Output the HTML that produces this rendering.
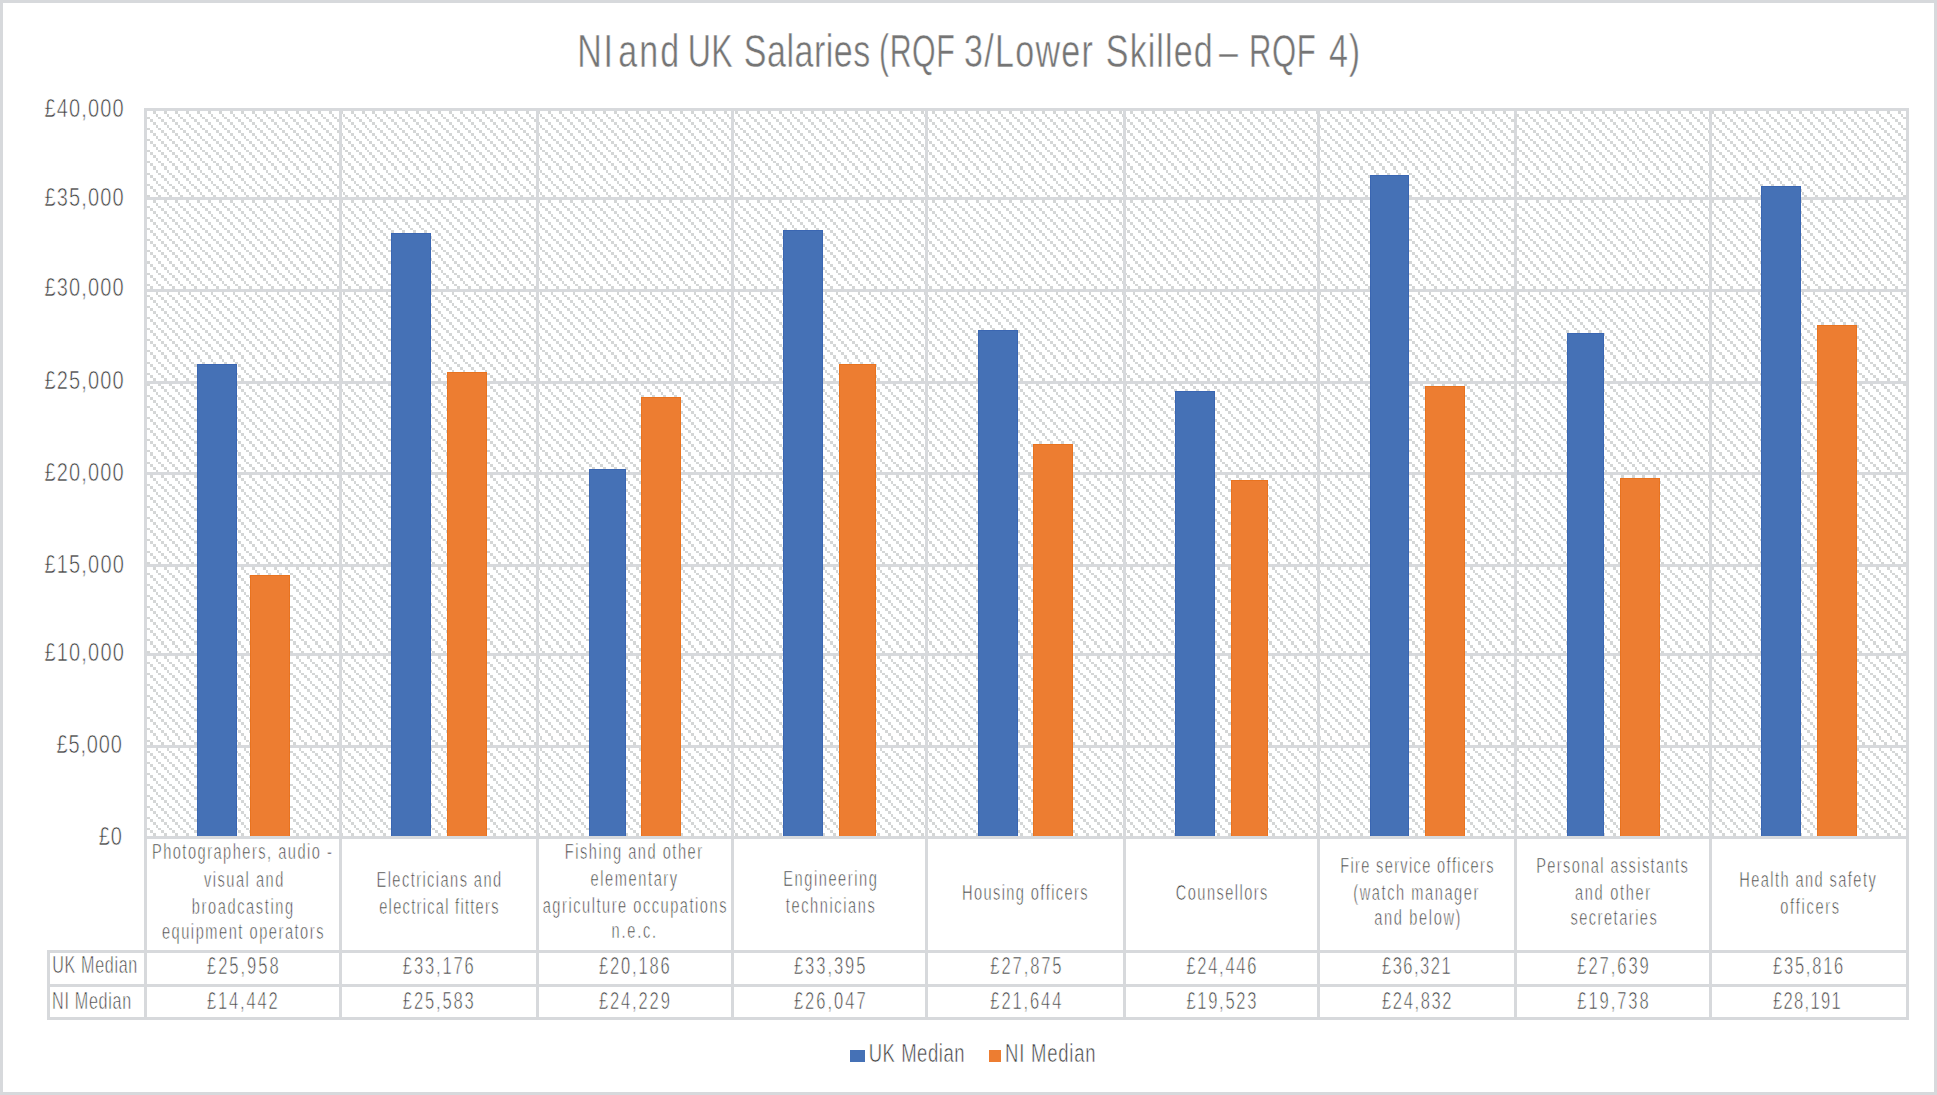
<!DOCTYPE html>
<html><head><meta charset="utf-8"><title>NI and UK Salaries</title><style>html,body{margin:0;padding:0;background:#fff;overflow:hidden}svg{display:block}text{font-family:"Liberation Sans",sans-serif;font-kerning:none}</style></head><body>
<svg width="1937" height="1095" viewBox="0 0 1937 1095" shape-rendering="crispEdges">
<defs><pattern id="h0_0" x="4" y="9" width="11" height="11" patternUnits="userSpaceOnUse"><rect x="0" y="9" width="3" height="2" fill="#d4d6d6"/><rect x="3" y="0" width="3" height="3" fill="#d4d6d6"/><rect x="6" y="3" width="3" height="3" fill="#d4d6d6"/><rect x="9" y="6" width="2" height="3" fill="#d4d6d6"/></pattern><pattern id="h0_1" x="4" y="10" width="11" height="11" patternUnits="userSpaceOnUse"><rect x="0" y="9" width="3" height="2" fill="#d4d6d6"/><rect x="3" y="0" width="3" height="3" fill="#d4d6d6"/><rect x="6" y="3" width="3" height="3" fill="#d4d6d6"/><rect x="9" y="6" width="2" height="3" fill="#d4d6d6"/></pattern><pattern id="h0_2" x="4" y="11" width="11" height="11" patternUnits="userSpaceOnUse"><rect x="0" y="9" width="3" height="2" fill="#d4d6d6"/><rect x="3" y="0" width="3" height="3" fill="#d4d6d6"/><rect x="6" y="3" width="3" height="3" fill="#d4d6d6"/><rect x="9" y="6" width="2" height="3" fill="#d4d6d6"/></pattern><pattern id="h0_3" x="4" y="12" width="11" height="11" patternUnits="userSpaceOnUse"><rect x="0" y="9" width="3" height="2" fill="#d4d6d6"/><rect x="3" y="0" width="3" height="3" fill="#d4d6d6"/><rect x="6" y="3" width="3" height="3" fill="#d4d6d6"/><rect x="9" y="6" width="2" height="3" fill="#d4d6d6"/></pattern><pattern id="h0_4" x="4" y="13" width="11" height="11" patternUnits="userSpaceOnUse"><rect x="0" y="9" width="3" height="2" fill="#d4d6d6"/><rect x="3" y="0" width="3" height="3" fill="#d4d6d6"/><rect x="6" y="3" width="3" height="3" fill="#d4d6d6"/><rect x="9" y="6" width="2" height="3" fill="#d4d6d6"/></pattern><pattern id="h0_5" x="4" y="14" width="11" height="11" patternUnits="userSpaceOnUse"><rect x="0" y="9" width="3" height="2" fill="#d4d6d6"/><rect x="3" y="0" width="3" height="3" fill="#d4d6d6"/><rect x="6" y="3" width="3" height="3" fill="#d4d6d6"/><rect x="9" y="6" width="2" height="3" fill="#d4d6d6"/></pattern><pattern id="h0_6" x="4" y="15" width="11" height="11" patternUnits="userSpaceOnUse"><rect x="0" y="9" width="3" height="2" fill="#d4d6d6"/><rect x="3" y="0" width="3" height="3" fill="#d4d6d6"/><rect x="6" y="3" width="3" height="3" fill="#d4d6d6"/><rect x="9" y="6" width="2" height="3" fill="#d4d6d6"/></pattern><pattern id="h0_7" x="4" y="16" width="11" height="11" patternUnits="userSpaceOnUse"><rect x="0" y="9" width="3" height="2" fill="#d4d6d6"/><rect x="3" y="0" width="3" height="3" fill="#d4d6d6"/><rect x="6" y="3" width="3" height="3" fill="#d4d6d6"/><rect x="9" y="6" width="2" height="3" fill="#d4d6d6"/></pattern><pattern id="h0_8" x="4" y="17" width="11" height="11" patternUnits="userSpaceOnUse"><rect x="0" y="9" width="3" height="2" fill="#d4d6d6"/><rect x="3" y="0" width="3" height="3" fill="#d4d6d6"/><rect x="6" y="3" width="3" height="3" fill="#d4d6d6"/><rect x="9" y="6" width="2" height="3" fill="#d4d6d6"/></pattern><pattern id="h1_0" x="3" y="9" width="11" height="11" patternUnits="userSpaceOnUse"><rect x="0" y="9" width="3" height="2" fill="#d4d6d6"/><rect x="3" y="0" width="3" height="3" fill="#d4d6d6"/><rect x="6" y="3" width="3" height="3" fill="#d4d6d6"/><rect x="9" y="6" width="2" height="3" fill="#d4d6d6"/></pattern><pattern id="h1_1" x="3" y="10" width="11" height="11" patternUnits="userSpaceOnUse"><rect x="0" y="9" width="3" height="2" fill="#d4d6d6"/><rect x="3" y="0" width="3" height="3" fill="#d4d6d6"/><rect x="6" y="3" width="3" height="3" fill="#d4d6d6"/><rect x="9" y="6" width="2" height="3" fill="#d4d6d6"/></pattern><pattern id="h1_2" x="3" y="11" width="11" height="11" patternUnits="userSpaceOnUse"><rect x="0" y="9" width="3" height="2" fill="#d4d6d6"/><rect x="3" y="0" width="3" height="3" fill="#d4d6d6"/><rect x="6" y="3" width="3" height="3" fill="#d4d6d6"/><rect x="9" y="6" width="2" height="3" fill="#d4d6d6"/></pattern><pattern id="h1_3" x="3" y="12" width="11" height="11" patternUnits="userSpaceOnUse"><rect x="0" y="9" width="3" height="2" fill="#d4d6d6"/><rect x="3" y="0" width="3" height="3" fill="#d4d6d6"/><rect x="6" y="3" width="3" height="3" fill="#d4d6d6"/><rect x="9" y="6" width="2" height="3" fill="#d4d6d6"/></pattern><pattern id="h1_4" x="3" y="13" width="11" height="11" patternUnits="userSpaceOnUse"><rect x="0" y="9" width="3" height="2" fill="#d4d6d6"/><rect x="3" y="0" width="3" height="3" fill="#d4d6d6"/><rect x="6" y="3" width="3" height="3" fill="#d4d6d6"/><rect x="9" y="6" width="2" height="3" fill="#d4d6d6"/></pattern><pattern id="h1_5" x="3" y="14" width="11" height="11" patternUnits="userSpaceOnUse"><rect x="0" y="9" width="3" height="2" fill="#d4d6d6"/><rect x="3" y="0" width="3" height="3" fill="#d4d6d6"/><rect x="6" y="3" width="3" height="3" fill="#d4d6d6"/><rect x="9" y="6" width="2" height="3" fill="#d4d6d6"/></pattern><pattern id="h1_6" x="3" y="15" width="11" height="11" patternUnits="userSpaceOnUse"><rect x="0" y="9" width="3" height="2" fill="#d4d6d6"/><rect x="3" y="0" width="3" height="3" fill="#d4d6d6"/><rect x="6" y="3" width="3" height="3" fill="#d4d6d6"/><rect x="9" y="6" width="2" height="3" fill="#d4d6d6"/></pattern><pattern id="h1_7" x="3" y="16" width="11" height="11" patternUnits="userSpaceOnUse"><rect x="0" y="9" width="3" height="2" fill="#d4d6d6"/><rect x="3" y="0" width="3" height="3" fill="#d4d6d6"/><rect x="6" y="3" width="3" height="3" fill="#d4d6d6"/><rect x="9" y="6" width="2" height="3" fill="#d4d6d6"/></pattern><pattern id="h1_8" x="3" y="17" width="11" height="11" patternUnits="userSpaceOnUse"><rect x="0" y="9" width="3" height="2" fill="#d4d6d6"/><rect x="3" y="0" width="3" height="3" fill="#d4d6d6"/><rect x="6" y="3" width="3" height="3" fill="#d4d6d6"/><rect x="9" y="6" width="2" height="3" fill="#d4d6d6"/></pattern><pattern id="h2_0" x="2" y="9" width="11" height="11" patternUnits="userSpaceOnUse"><rect x="0" y="9" width="3" height="2" fill="#d4d6d6"/><rect x="3" y="0" width="3" height="3" fill="#d4d6d6"/><rect x="6" y="3" width="3" height="3" fill="#d4d6d6"/><rect x="9" y="6" width="2" height="3" fill="#d4d6d6"/></pattern><pattern id="h2_1" x="2" y="10" width="11" height="11" patternUnits="userSpaceOnUse"><rect x="0" y="9" width="3" height="2" fill="#d4d6d6"/><rect x="3" y="0" width="3" height="3" fill="#d4d6d6"/><rect x="6" y="3" width="3" height="3" fill="#d4d6d6"/><rect x="9" y="6" width="2" height="3" fill="#d4d6d6"/></pattern><pattern id="h2_2" x="2" y="11" width="11" height="11" patternUnits="userSpaceOnUse"><rect x="0" y="9" width="3" height="2" fill="#d4d6d6"/><rect x="3" y="0" width="3" height="3" fill="#d4d6d6"/><rect x="6" y="3" width="3" height="3" fill="#d4d6d6"/><rect x="9" y="6" width="2" height="3" fill="#d4d6d6"/></pattern><pattern id="h2_3" x="2" y="12" width="11" height="11" patternUnits="userSpaceOnUse"><rect x="0" y="9" width="3" height="2" fill="#d4d6d6"/><rect x="3" y="0" width="3" height="3" fill="#d4d6d6"/><rect x="6" y="3" width="3" height="3" fill="#d4d6d6"/><rect x="9" y="6" width="2" height="3" fill="#d4d6d6"/></pattern><pattern id="h2_4" x="2" y="13" width="11" height="11" patternUnits="userSpaceOnUse"><rect x="0" y="9" width="3" height="2" fill="#d4d6d6"/><rect x="3" y="0" width="3" height="3" fill="#d4d6d6"/><rect x="6" y="3" width="3" height="3" fill="#d4d6d6"/><rect x="9" y="6" width="2" height="3" fill="#d4d6d6"/></pattern><pattern id="h2_5" x="2" y="14" width="11" height="11" patternUnits="userSpaceOnUse"><rect x="0" y="9" width="3" height="2" fill="#d4d6d6"/><rect x="3" y="0" width="3" height="3" fill="#d4d6d6"/><rect x="6" y="3" width="3" height="3" fill="#d4d6d6"/><rect x="9" y="6" width="2" height="3" fill="#d4d6d6"/></pattern><pattern id="h2_6" x="2" y="15" width="11" height="11" patternUnits="userSpaceOnUse"><rect x="0" y="9" width="3" height="2" fill="#d4d6d6"/><rect x="3" y="0" width="3" height="3" fill="#d4d6d6"/><rect x="6" y="3" width="3" height="3" fill="#d4d6d6"/><rect x="9" y="6" width="2" height="3" fill="#d4d6d6"/></pattern><pattern id="h2_7" x="2" y="16" width="11" height="11" patternUnits="userSpaceOnUse"><rect x="0" y="9" width="3" height="2" fill="#d4d6d6"/><rect x="3" y="0" width="3" height="3" fill="#d4d6d6"/><rect x="6" y="3" width="3" height="3" fill="#d4d6d6"/><rect x="9" y="6" width="2" height="3" fill="#d4d6d6"/></pattern><pattern id="h2_8" x="2" y="17" width="11" height="11" patternUnits="userSpaceOnUse"><rect x="0" y="9" width="3" height="2" fill="#d4d6d6"/><rect x="3" y="0" width="3" height="3" fill="#d4d6d6"/><rect x="6" y="3" width="3" height="3" fill="#d4d6d6"/><rect x="9" y="6" width="2" height="3" fill="#d4d6d6"/></pattern><pattern id="h3_0" x="1" y="9" width="11" height="11" patternUnits="userSpaceOnUse"><rect x="0" y="9" width="3" height="2" fill="#d4d6d6"/><rect x="3" y="0" width="3" height="3" fill="#d4d6d6"/><rect x="6" y="3" width="3" height="3" fill="#d4d6d6"/><rect x="9" y="6" width="2" height="3" fill="#d4d6d6"/></pattern><pattern id="h3_1" x="1" y="10" width="11" height="11" patternUnits="userSpaceOnUse"><rect x="0" y="9" width="3" height="2" fill="#d4d6d6"/><rect x="3" y="0" width="3" height="3" fill="#d4d6d6"/><rect x="6" y="3" width="3" height="3" fill="#d4d6d6"/><rect x="9" y="6" width="2" height="3" fill="#d4d6d6"/></pattern><pattern id="h3_2" x="1" y="11" width="11" height="11" patternUnits="userSpaceOnUse"><rect x="0" y="9" width="3" height="2" fill="#d4d6d6"/><rect x="3" y="0" width="3" height="3" fill="#d4d6d6"/><rect x="6" y="3" width="3" height="3" fill="#d4d6d6"/><rect x="9" y="6" width="2" height="3" fill="#d4d6d6"/></pattern><pattern id="h3_3" x="1" y="12" width="11" height="11" patternUnits="userSpaceOnUse"><rect x="0" y="9" width="3" height="2" fill="#d4d6d6"/><rect x="3" y="0" width="3" height="3" fill="#d4d6d6"/><rect x="6" y="3" width="3" height="3" fill="#d4d6d6"/><rect x="9" y="6" width="2" height="3" fill="#d4d6d6"/></pattern><pattern id="h3_4" x="1" y="13" width="11" height="11" patternUnits="userSpaceOnUse"><rect x="0" y="9" width="3" height="2" fill="#d4d6d6"/><rect x="3" y="0" width="3" height="3" fill="#d4d6d6"/><rect x="6" y="3" width="3" height="3" fill="#d4d6d6"/><rect x="9" y="6" width="2" height="3" fill="#d4d6d6"/></pattern><pattern id="h3_5" x="1" y="14" width="11" height="11" patternUnits="userSpaceOnUse"><rect x="0" y="9" width="3" height="2" fill="#d4d6d6"/><rect x="3" y="0" width="3" height="3" fill="#d4d6d6"/><rect x="6" y="3" width="3" height="3" fill="#d4d6d6"/><rect x="9" y="6" width="2" height="3" fill="#d4d6d6"/></pattern><pattern id="h3_6" x="1" y="15" width="11" height="11" patternUnits="userSpaceOnUse"><rect x="0" y="9" width="3" height="2" fill="#d4d6d6"/><rect x="3" y="0" width="3" height="3" fill="#d4d6d6"/><rect x="6" y="3" width="3" height="3" fill="#d4d6d6"/><rect x="9" y="6" width="2" height="3" fill="#d4d6d6"/></pattern><pattern id="h3_7" x="1" y="16" width="11" height="11" patternUnits="userSpaceOnUse"><rect x="0" y="9" width="3" height="2" fill="#d4d6d6"/><rect x="3" y="0" width="3" height="3" fill="#d4d6d6"/><rect x="6" y="3" width="3" height="3" fill="#d4d6d6"/><rect x="9" y="6" width="2" height="3" fill="#d4d6d6"/></pattern><pattern id="h3_8" x="1" y="17" width="11" height="11" patternUnits="userSpaceOnUse"><rect x="0" y="9" width="3" height="2" fill="#d4d6d6"/><rect x="3" y="0" width="3" height="3" fill="#d4d6d6"/><rect x="6" y="3" width="3" height="3" fill="#d4d6d6"/><rect x="9" y="6" width="2" height="3" fill="#d4d6d6"/></pattern><pattern id="h4_0" x="0" y="9" width="11" height="11" patternUnits="userSpaceOnUse"><rect x="0" y="9" width="3" height="2" fill="#d4d6d6"/><rect x="3" y="0" width="3" height="3" fill="#d4d6d6"/><rect x="6" y="3" width="3" height="3" fill="#d4d6d6"/><rect x="9" y="6" width="2" height="3" fill="#d4d6d6"/></pattern><pattern id="h4_1" x="0" y="10" width="11" height="11" patternUnits="userSpaceOnUse"><rect x="0" y="9" width="3" height="2" fill="#d4d6d6"/><rect x="3" y="0" width="3" height="3" fill="#d4d6d6"/><rect x="6" y="3" width="3" height="3" fill="#d4d6d6"/><rect x="9" y="6" width="2" height="3" fill="#d4d6d6"/></pattern><pattern id="h4_2" x="0" y="11" width="11" height="11" patternUnits="userSpaceOnUse"><rect x="0" y="9" width="3" height="2" fill="#d4d6d6"/><rect x="3" y="0" width="3" height="3" fill="#d4d6d6"/><rect x="6" y="3" width="3" height="3" fill="#d4d6d6"/><rect x="9" y="6" width="2" height="3" fill="#d4d6d6"/></pattern><pattern id="h4_3" x="0" y="12" width="11" height="11" patternUnits="userSpaceOnUse"><rect x="0" y="9" width="3" height="2" fill="#d4d6d6"/><rect x="3" y="0" width="3" height="3" fill="#d4d6d6"/><rect x="6" y="3" width="3" height="3" fill="#d4d6d6"/><rect x="9" y="6" width="2" height="3" fill="#d4d6d6"/></pattern><pattern id="h4_4" x="0" y="13" width="11" height="11" patternUnits="userSpaceOnUse"><rect x="0" y="9" width="3" height="2" fill="#d4d6d6"/><rect x="3" y="0" width="3" height="3" fill="#d4d6d6"/><rect x="6" y="3" width="3" height="3" fill="#d4d6d6"/><rect x="9" y="6" width="2" height="3" fill="#d4d6d6"/></pattern><pattern id="h4_5" x="0" y="14" width="11" height="11" patternUnits="userSpaceOnUse"><rect x="0" y="9" width="3" height="2" fill="#d4d6d6"/><rect x="3" y="0" width="3" height="3" fill="#d4d6d6"/><rect x="6" y="3" width="3" height="3" fill="#d4d6d6"/><rect x="9" y="6" width="2" height="3" fill="#d4d6d6"/></pattern><pattern id="h4_6" x="0" y="15" width="11" height="11" patternUnits="userSpaceOnUse"><rect x="0" y="9" width="3" height="2" fill="#d4d6d6"/><rect x="3" y="0" width="3" height="3" fill="#d4d6d6"/><rect x="6" y="3" width="3" height="3" fill="#d4d6d6"/><rect x="9" y="6" width="2" height="3" fill="#d4d6d6"/></pattern><pattern id="h4_7" x="0" y="16" width="11" height="11" patternUnits="userSpaceOnUse"><rect x="0" y="9" width="3" height="2" fill="#d4d6d6"/><rect x="3" y="0" width="3" height="3" fill="#d4d6d6"/><rect x="6" y="3" width="3" height="3" fill="#d4d6d6"/><rect x="9" y="6" width="2" height="3" fill="#d4d6d6"/></pattern><pattern id="h4_8" x="0" y="17" width="11" height="11" patternUnits="userSpaceOnUse"><rect x="0" y="9" width="3" height="2" fill="#d4d6d6"/><rect x="3" y="0" width="3" height="3" fill="#d4d6d6"/><rect x="6" y="3" width="3" height="3" fill="#d4d6d6"/><rect x="9" y="6" width="2" height="3" fill="#d4d6d6"/></pattern></defs>
<rect x="0" y="0" width="1937" height="1095" fill="#ffffff"/>
<rect x="0" y="0" width="1937" height="3" fill="#d7d9dc"/>
<rect x="0" y="1092" width="1937" height="3" fill="#d7d9dc"/>
<rect x="0" y="0" width="3" height="1095" fill="#d7d9dc"/>
<rect x="1934" y="0" width="3" height="1095" fill="#d7d9dc"/>
<rect x="144" y="108" width="225" height="59" fill="url(#h0_0)"/>
<rect x="144" y="167" width="225" height="95" fill="url(#h0_1)"/>
<rect x="144" y="262" width="225" height="96" fill="url(#h0_2)"/>
<rect x="144" y="358" width="225" height="95" fill="url(#h0_3)"/>
<rect x="144" y="453" width="225" height="95" fill="url(#h0_4)"/>
<rect x="144" y="548" width="225" height="95" fill="url(#h0_5)"/>
<rect x="144" y="643" width="225" height="96" fill="url(#h0_6)"/>
<rect x="144" y="739" width="225" height="95" fill="url(#h0_7)"/>
<rect x="144" y="834" width="225" height="5" fill="url(#h0_8)"/>
<rect x="369" y="108" width="422" height="59" fill="url(#h1_0)"/>
<rect x="369" y="167" width="422" height="95" fill="url(#h1_1)"/>
<rect x="369" y="262" width="422" height="96" fill="url(#h1_2)"/>
<rect x="369" y="358" width="422" height="95" fill="url(#h1_3)"/>
<rect x="369" y="453" width="422" height="95" fill="url(#h1_4)"/>
<rect x="369" y="548" width="422" height="95" fill="url(#h1_5)"/>
<rect x="369" y="643" width="422" height="96" fill="url(#h1_6)"/>
<rect x="369" y="739" width="422" height="95" fill="url(#h1_7)"/>
<rect x="369" y="834" width="422" height="5" fill="url(#h1_8)"/>
<rect x="791" y="108" width="422" height="59" fill="url(#h2_0)"/>
<rect x="791" y="167" width="422" height="95" fill="url(#h2_1)"/>
<rect x="791" y="262" width="422" height="96" fill="url(#h2_2)"/>
<rect x="791" y="358" width="422" height="95" fill="url(#h2_3)"/>
<rect x="791" y="453" width="422" height="95" fill="url(#h2_4)"/>
<rect x="791" y="548" width="422" height="95" fill="url(#h2_5)"/>
<rect x="791" y="643" width="422" height="96" fill="url(#h2_6)"/>
<rect x="791" y="739" width="422" height="95" fill="url(#h2_7)"/>
<rect x="791" y="834" width="422" height="5" fill="url(#h2_8)"/>
<rect x="1213" y="108" width="422" height="59" fill="url(#h3_0)"/>
<rect x="1213" y="167" width="422" height="95" fill="url(#h3_1)"/>
<rect x="1213" y="262" width="422" height="96" fill="url(#h3_2)"/>
<rect x="1213" y="358" width="422" height="95" fill="url(#h3_3)"/>
<rect x="1213" y="453" width="422" height="95" fill="url(#h3_4)"/>
<rect x="1213" y="548" width="422" height="95" fill="url(#h3_5)"/>
<rect x="1213" y="643" width="422" height="96" fill="url(#h3_6)"/>
<rect x="1213" y="739" width="422" height="95" fill="url(#h3_7)"/>
<rect x="1213" y="834" width="422" height="5" fill="url(#h3_8)"/>
<rect x="1635" y="108" width="274" height="59" fill="url(#h4_0)"/>
<rect x="1635" y="167" width="274" height="95" fill="url(#h4_1)"/>
<rect x="1635" y="262" width="274" height="96" fill="url(#h4_2)"/>
<rect x="1635" y="358" width="274" height="95" fill="url(#h4_3)"/>
<rect x="1635" y="453" width="274" height="95" fill="url(#h4_4)"/>
<rect x="1635" y="548" width="274" height="95" fill="url(#h4_5)"/>
<rect x="1635" y="643" width="274" height="96" fill="url(#h4_6)"/>
<rect x="1635" y="739" width="274" height="95" fill="url(#h4_7)"/>
<rect x="1635" y="834" width="274" height="5" fill="url(#h4_8)"/>
<rect x="144" y="108" width="1765" height="3" fill="#d7d9dc"/>
<rect x="144" y="197" width="1765" height="3" fill="#d7d9dc"/>
<rect x="144" y="289" width="1765" height="3" fill="#d7d9dc"/>
<rect x="144" y="381" width="1765" height="3" fill="#d7d9dc"/>
<rect x="144" y="472" width="1765" height="3" fill="#d7d9dc"/>
<rect x="144" y="564" width="1765" height="3" fill="#d7d9dc"/>
<rect x="144" y="653" width="1765" height="3" fill="#d7d9dc"/>
<rect x="144" y="745" width="1765" height="3" fill="#d7d9dc"/>
<rect x="144" y="836" width="1765" height="3" fill="#d7d9dc"/>
<rect x="144" y="108" width="3" height="912" fill="#d7d9dc"/>
<rect x="339" y="108" width="3" height="912" fill="#d7d9dc"/>
<rect x="536" y="108" width="3" height="912" fill="#d7d9dc"/>
<rect x="731" y="108" width="3" height="912" fill="#d7d9dc"/>
<rect x="925" y="108" width="3" height="912" fill="#d7d9dc"/>
<rect x="1123" y="108" width="3" height="912" fill="#d7d9dc"/>
<rect x="1317" y="108" width="3" height="912" fill="#d7d9dc"/>
<rect x="1514" y="108" width="3" height="912" fill="#d7d9dc"/>
<rect x="1709" y="108" width="3" height="912" fill="#d7d9dc"/>
<rect x="1906" y="108" width="3" height="912" fill="#d7d9dc"/>
<rect x="47" y="950" width="1862" height="3" fill="#d7d9dc"/>
<rect x="47" y="984" width="1862" height="3" fill="#d7d9dc"/>
<rect x="47" y="1017" width="1862" height="3" fill="#d7d9dc"/>
<rect x="47" y="950" width="3" height="70" fill="#d7d9dc"/>
<rect x="197" y="364" width="40" height="472" fill="#3a66b2"/>
<rect x="198" y="365" width="38" height="471" fill="#4571b6"/>
<rect x="391" y="233" width="40" height="603" fill="#3a66b2"/>
<rect x="392" y="234" width="38" height="602" fill="#4571b6"/>
<rect x="589" y="469" width="37" height="367" fill="#3a66b2"/>
<rect x="590" y="470" width="35" height="366" fill="#4571b6"/>
<rect x="783" y="230" width="40" height="606" fill="#3a66b2"/>
<rect x="784" y="231" width="38" height="605" fill="#4571b6"/>
<rect x="978" y="330" width="40" height="506" fill="#3a66b2"/>
<rect x="979" y="331" width="38" height="505" fill="#4571b6"/>
<rect x="1175" y="391" width="40" height="445" fill="#3a66b2"/>
<rect x="1176" y="392" width="38" height="444" fill="#4571b6"/>
<rect x="1370" y="175" width="39" height="661" fill="#3a66b2"/>
<rect x="1371" y="176" width="37" height="660" fill="#4571b6"/>
<rect x="1567" y="333" width="37" height="503" fill="#3a66b2"/>
<rect x="1568" y="334" width="35" height="502" fill="#4571b6"/>
<rect x="1761" y="186" width="40" height="650" fill="#3a66b2"/>
<rect x="1762" y="187" width="38" height="649" fill="#4571b6"/>
<rect x="250" y="575" width="40" height="261" fill="#e9731f"/>
<rect x="251" y="576" width="38" height="260" fill="#ed7d31"/>
<rect x="447" y="372" width="40" height="464" fill="#e9731f"/>
<rect x="448" y="373" width="38" height="463" fill="#ed7d31"/>
<rect x="641" y="397" width="40" height="439" fill="#e9731f"/>
<rect x="642" y="398" width="38" height="438" fill="#ed7d31"/>
<rect x="839" y="364" width="37" height="472" fill="#e9731f"/>
<rect x="840" y="365" width="35" height="471" fill="#ed7d31"/>
<rect x="1033" y="444" width="40" height="392" fill="#e9731f"/>
<rect x="1034" y="445" width="38" height="391" fill="#ed7d31"/>
<rect x="1231" y="480" width="37" height="356" fill="#e9731f"/>
<rect x="1232" y="481" width="35" height="355" fill="#ed7d31"/>
<rect x="1425" y="386" width="40" height="450" fill="#e9731f"/>
<rect x="1426" y="387" width="38" height="449" fill="#ed7d31"/>
<rect x="1620" y="478" width="40" height="358" fill="#e9731f"/>
<rect x="1621" y="479" width="38" height="357" fill="#ed7d31"/>
<rect x="1817" y="325" width="40" height="511" fill="#e9731f"/>
<rect x="1818" y="326" width="38" height="510" fill="#ed7d31"/>
<rect x="850" y="1050" width="15" height="12" fill="#4571b6"/>
<rect x="989" y="1050" width="12" height="12" fill="#ed7d31"/>
<g font-family="Liberation Sans, sans-serif" style="font-kerning:none" shape-rendering="auto">
<text transform="matrix(0.74,0,0,1,580.10,66.80)" x="-3.77" y="0" font-size="46" fill="#757575" style="letter-spacing:2.289px" stroke="#fff" stroke-width="0.5">NI</text>
<text transform="matrix(0.74,0,0,1,619.60,66.80)" x="-1.95" y="0" font-size="46" fill="#757575" style="letter-spacing:2.936px" stroke="#fff" stroke-width="0.5">and</text>
<text transform="matrix(0.6976,0,0,1,690.10,66.80)" x="-3.55" y="0" font-size="46" fill="#757575" style="letter-spacing:0.801px" stroke="#fff" stroke-width="0.5">UK</text>
<text transform="matrix(0.74,0,0,1,745.40,66.80)" x="-2.09" y="0" font-size="46" fill="#757575" style="letter-spacing:0.656px" stroke="#fff" stroke-width="0.5">Salaries</text>
<text transform="matrix(0.6593,0,0,1,880.90,66.80)" x="-2.85" y="0" font-size="46" fill="#757575" style="letter-spacing:0.798px" stroke="#fff" stroke-width="0.5">(RQF</text>
<text transform="matrix(0.74,0,0,1,965.40,66.80)" x="-1.75" y="0" font-size="46" fill="#757575" style="letter-spacing:1.725px" stroke="#fff" stroke-width="0.5">3/Lower</text>
<text transform="matrix(0.74,0,0,1,1107.40,66.80)" x="-2.09" y="0" font-size="46" fill="#757575" style="letter-spacing:1.456px" stroke="#fff" stroke-width="0.5">Skilled</text>
<text transform="matrix(0.74,0,0,1,1219.10,66.80)" x="-0.00" y="0" font-size="46" fill="#757575" stroke="#fff" stroke-width="0.5">–</text>
<text transform="matrix(0.6757,0,0,1,1251.60,66.80)" x="-3.77" y="0" font-size="46" fill="#757575" style="letter-spacing:0.803px" stroke="#fff" stroke-width="0.5">RQF</text>
<text transform="matrix(0.74,0,0,1,1329.70,66.80)" x="-1.06" y="0" font-size="46" fill="#757575" style="letter-spacing:1.115px" stroke="#fff" stroke-width="0.5">4)</text>
<text transform="matrix(0.8,0,0,1,45.10,116.90)" x="-0.71" y="0" font-size="25" fill="#404040" style="letter-spacing:1.428px" stroke="#fff" stroke-width="0.6">£40,000</text>
<text transform="matrix(0.8,0,0,1,45.00,205.50)" x="-0.71" y="0" font-size="25" fill="#404040" style="letter-spacing:1.469px" stroke="#fff" stroke-width="0.6">£35,000</text>
<text transform="matrix(0.8,0,0,1,45.00,296.40)" x="-0.71" y="0" font-size="25" fill="#404040" style="letter-spacing:1.469px" stroke="#fff" stroke-width="0.6">£30,000</text>
<text transform="matrix(0.8,0,0,1,45.00,388.50)" x="-0.71" y="0" font-size="25" fill="#404040" style="letter-spacing:1.469px" stroke="#fff" stroke-width="0.6">£25,000</text>
<text transform="matrix(0.8,0,0,1,45.00,480.50)" x="-0.71" y="0" font-size="25" fill="#404040" style="letter-spacing:1.469px" stroke="#fff" stroke-width="0.6">£20,000</text>
<text transform="matrix(0.8,0,0,1,45.00,572.90)" x="-0.71" y="0" font-size="25" fill="#404040" style="letter-spacing:1.490px" stroke="#fff" stroke-width="0.6">£15,000</text>
<text transform="matrix(0.8,0,0,1,45.00,660.80)" x="-0.71" y="0" font-size="25" fill="#404040" style="letter-spacing:1.490px" stroke="#fff" stroke-width="0.6">£10,000</text>
<text transform="matrix(0.8,0,0,1,57.00,753.00)" x="-0.71" y="0" font-size="25" fill="#404040" style="letter-spacing:1.069px" stroke="#fff" stroke-width="0.6">£5,000</text>
<text transform="matrix(0.8,0,0,1,99.20,845.10)" x="-0.71" y="0" font-size="25" fill="#404040" style="letter-spacing:1.252px" stroke="#fff" stroke-width="0.6">£0</text>
<text transform="matrix(0.65,0,0,1,153.10,858.60)" x="-1.85" y="0" font-size="22.5" fill="#404040" style="letter-spacing:2.283px" stroke="#fff" stroke-width="0.65">Photographers, audio -</text>
<text transform="matrix(0.65,0,0,1,204.00,886.50)" x="-0.08" y="0" font-size="22.5" fill="#404040" style="letter-spacing:2.314px" stroke="#fff" stroke-width="0.65">visual and</text>
<text transform="matrix(0.65,0,0,1,192.60,913.90)" x="-1.45" y="0" font-size="22.5" fill="#404040" style="letter-spacing:2.495px" stroke="#fff" stroke-width="0.65">broadcasting</text>
<text transform="matrix(0.65,0,0,1,162.50,938.50)" x="-0.96" y="0" font-size="22.5" fill="#404040" style="letter-spacing:2.351px" stroke="#fff" stroke-width="0.65">equipment operators</text>
<text transform="matrix(0.65,0,0,1,377.70,886.80)" x="-1.85" y="0" font-size="22.5" fill="#404040" style="letter-spacing:2.195px" stroke="#fff" stroke-width="0.65">Electricians and</text>
<text transform="matrix(0.65,0,0,1,379.80,913.70)" x="-0.96" y="0" font-size="22.5" fill="#404040" style="letter-spacing:1.975px" stroke="#fff" stroke-width="0.65">electrical fitters</text>
<text transform="matrix(0.65,0,0,1,566.00,858.70)" x="-1.85" y="0" font-size="22.5" fill="#404040" style="letter-spacing:2.340px" stroke="#fff" stroke-width="0.65">Fishing and other</text>
<text transform="matrix(0.65,0,0,1,591.20,886.20)" x="-0.96" y="0" font-size="22.5" fill="#404040" style="letter-spacing:2.428px" stroke="#fff" stroke-width="0.65">elementary</text>
<text transform="matrix(0.65,0,0,1,543.30,913.10)" x="-0.96" y="0" font-size="22.5" fill="#404040" style="letter-spacing:2.339px" stroke="#fff" stroke-width="0.65">agriculture occupations</text>
<text transform="matrix(0.65,0,0,1,612.50,938.30)" x="-1.49" y="0" font-size="22.5" fill="#404040" style="letter-spacing:2.719px" stroke="#fff" stroke-width="0.65">n.e.c.</text>
<text transform="matrix(0.65,0,0,1,784.50,886.20)" x="-1.85" y="0" font-size="22.5" fill="#404040" style="letter-spacing:2.382px" stroke="#fff" stroke-width="0.65">Engineering</text>
<text transform="matrix(0.65,0,0,1,786.00,913.10)" x="-0.34" y="0" font-size="22.5" fill="#404040" style="letter-spacing:2.428px" stroke="#fff" stroke-width="0.65">technicians</text>
<text transform="matrix(0.65,0,0,1,963.20,900.10)" x="-1.85" y="0" font-size="22.5" fill="#404040" style="letter-spacing:2.130px" stroke="#fff" stroke-width="0.65">Housing officers</text>
<text transform="matrix(0.65,0,0,1,1176.50,900.10)" x="-1.14" y="0" font-size="22.5" fill="#404040" style="letter-spacing:2.207px" stroke="#fff" stroke-width="0.65">Counsellors</text>
<text transform="matrix(0.65,0,0,1,1341.40,872.80)" x="-1.85" y="0" font-size="22.5" fill="#404040" style="letter-spacing:2.042px" stroke="#fff" stroke-width="0.65">Fire service officers</text>
<text transform="matrix(0.65,0,0,1,1354.20,900.10)" x="-1.40" y="0" font-size="22.5" fill="#404040" style="letter-spacing:2.389px" stroke="#fff" stroke-width="0.65">(watch manager</text>
<text transform="matrix(0.65,0,0,1,1374.90,924.90)" x="-0.96" y="0" font-size="22.5" fill="#404040" style="letter-spacing:2.510px" stroke="#fff" stroke-width="0.65">and below)</text>
<text transform="matrix(0.65,0,0,1,1537.40,872.80)" x="-1.85" y="0" font-size="22.5" fill="#404040" style="letter-spacing:2.121px" stroke="#fff" stroke-width="0.65">Personal assistants</text>
<text transform="matrix(0.65,0,0,1,1575.60,900.10)" x="-0.96" y="0" font-size="22.5" fill="#404040" style="letter-spacing:2.589px" stroke="#fff" stroke-width="0.65">and other</text>
<text transform="matrix(0.65,0,0,1,1570.80,924.90)" x="-0.63" y="0" font-size="22.5" fill="#404040" style="letter-spacing:2.294px" stroke="#fff" stroke-width="0.65">secretaries</text>
<text transform="matrix(0.65,0,0,1,1740.40,886.60)" x="-1.85" y="0" font-size="22.5" fill="#404040" style="letter-spacing:2.183px" stroke="#fff" stroke-width="0.65">Health and safety</text>
<text transform="matrix(0.65,0,0,1,1780.80,913.50)" x="-0.94" y="0" font-size="22.5" fill="#404040" style="letter-spacing:2.594px" stroke="#fff" stroke-width="0.65">officers</text>
<text transform="matrix(0.7,0,0,1,53.40,973.00)" x="-1.77" y="0" font-size="23" fill="#404040" style="letter-spacing:0.990px" stroke="#fff" stroke-width="0.65">UK Median</text>
<text transform="matrix(0.7,0,0,1,53.40,1008.90)" x="-1.89" y="0" font-size="23" fill="#404040" style="letter-spacing:1.034px" stroke="#fff" stroke-width="0.65">NI Median</text>
<text transform="matrix(0.72,0,0,1,207.50,973.50)" x="-0.65" y="0" font-size="23" fill="#404040" style="letter-spacing:2.715px" stroke="#fff" stroke-width="0.65">£25,958</text>
<text transform="matrix(0.72,0,0,1,403.30,973.50)" x="-0.65" y="0" font-size="23" fill="#404040" style="letter-spacing:2.555px" stroke="#fff" stroke-width="0.65">£33,176</text>
<text transform="matrix(0.72,0,0,1,599.40,973.50)" x="-0.65" y="0" font-size="23" fill="#404040" style="letter-spacing:2.555px" stroke="#fff" stroke-width="0.65">£20,186</text>
<text transform="matrix(0.72,0,0,1,794.40,973.50)" x="-0.65" y="0" font-size="23" fill="#404040" style="letter-spacing:2.709px" stroke="#fff" stroke-width="0.65">£33,395</text>
<text transform="matrix(0.72,0,0,1,990.80,973.50)" x="-0.65" y="0" font-size="23" fill="#404040" style="letter-spacing:2.640px" stroke="#fff" stroke-width="0.65">£27,875</text>
<text transform="matrix(0.72,0,0,1,1186.90,973.50)" x="-0.65" y="0" font-size="23" fill="#404040" style="letter-spacing:2.346px" stroke="#fff" stroke-width="0.65">£24,446</text>
<text transform="matrix(0.72,0,0,1,1382.50,973.50)" x="-0.65" y="0" font-size="23" fill="#404040" style="letter-spacing:2.018px" stroke="#fff" stroke-width="0.65">£36,321</text>
<text transform="matrix(0.72,0,0,1,1577.70,973.50)" x="-0.65" y="0" font-size="23" fill="#404040" style="letter-spacing:2.707px" stroke="#fff" stroke-width="0.65">£27,639</text>
<text transform="matrix(0.72,0,0,1,1773.50,973.50)" x="-0.65" y="0" font-size="23" fill="#404040" style="letter-spacing:2.416px" stroke="#fff" stroke-width="0.65">£35,816</text>
<text transform="matrix(0.72,0,0,1,207.50,1008.50)" x="-0.65" y="0" font-size="23" fill="#404040" style="letter-spacing:2.510px" stroke="#fff" stroke-width="0.65">£14,442</text>
<text transform="matrix(0.72,0,0,1,403.30,1008.50)" x="-0.65" y="0" font-size="23" fill="#404040" style="letter-spacing:2.555px" stroke="#fff" stroke-width="0.65">£25,583</text>
<text transform="matrix(0.72,0,0,1,599.40,1008.50)" x="-0.65" y="0" font-size="23" fill="#404040" style="letter-spacing:2.568px" stroke="#fff" stroke-width="0.65">£24,229</text>
<text transform="matrix(0.72,0,0,1,794.40,1008.50)" x="-0.65" y="0" font-size="23" fill="#404040" style="letter-spacing:2.741px" stroke="#fff" stroke-width="0.65">£26,047</text>
<text transform="matrix(0.72,0,0,1,990.80,1008.50)" x="-0.65" y="0" font-size="23" fill="#404040" style="letter-spacing:2.591px" stroke="#fff" stroke-width="0.65">£21,644</text>
<text transform="matrix(0.72,0,0,1,1186.90,1008.50)" x="-0.65" y="0" font-size="23" fill="#404040" style="letter-spacing:2.346px" stroke="#fff" stroke-width="0.65">£19,523</text>
<text transform="matrix(0.72,0,0,1,1382.50,1008.50)" x="-0.65" y="0" font-size="23" fill="#404040" style="letter-spacing:2.232px" stroke="#fff" stroke-width="0.65">£24,832</text>
<text transform="matrix(0.72,0,0,1,1577.70,1008.50)" x="-0.65" y="0" font-size="23" fill="#404040" style="letter-spacing:2.692px" stroke="#fff" stroke-width="0.65">£19,738</text>
<text transform="matrix(0.72,0,0,1,1773.50,1008.50)" x="-0.65" y="0" font-size="23" fill="#404040" style="letter-spacing:1.833px" stroke="#fff" stroke-width="0.65">£28,191</text>
<text transform="matrix(0.74,0,0,1,870.10,1061.60)" x="-1.93" y="0" font-size="25" fill="#404040" style="letter-spacing:0.745px" stroke="#fff" stroke-width="0.6">UK Median</text>
<text transform="matrix(0.74,0,0,1,1006.60,1061.60)" x="-2.05" y="0" font-size="25" fill="#404040" style="letter-spacing:1.048px" stroke="#fff" stroke-width="0.6">NI Median</text>
</g></svg>
</body></html>
